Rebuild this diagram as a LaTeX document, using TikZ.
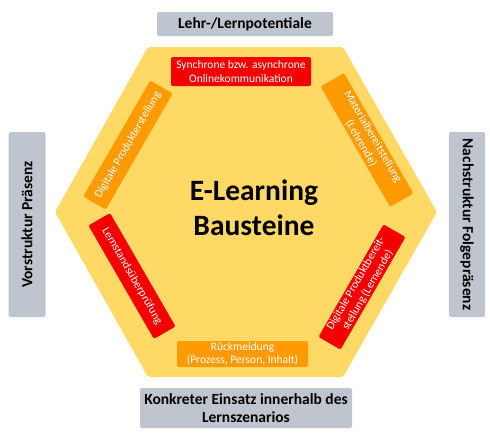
\documentclass[tikz,border=0pt]{standalone}
\usepackage{fontspec}
\setmainfont{Carlito}
\usepackage{tikz}

\definecolor{hexyellow}{RGB}{255,217,102}
\definecolor{brickorange}{RGB}{255,154,0}
\definecolor{brickred}{RGB}{244,0,0}
\definecolor{framegray}{RGB}{191,197,207}

\begin{document}
\begin{tikzpicture}[x=1pt,y=-1pt] \tikzstyle{every node}=[rounded corners=2pt,align=center,inner sep=1pt]
\tikzstyle{frame}=[fill=framegray,font=\bfseries\fontsize{15.5}{17.5}\selectfont]
\tikzstyle{brick}=[text=white,font=\fontsize{11.5}{13.5}\selectfont]
\tikzstyle{orangebrick}=[brick,fill=brickorange]
\tikzstyle{redbrick}=[brick,fill=brickred]
\useasboundingbox (0,0) rectangle (490,439);
\fill[hexyellow,rounded corners=2pt] (55,212) -- (148,47) -- (343,47) -- (437,212)
    -- (343,377) -- (148,377) -- cycle;
\node[font=\bfseries\fontsize{29.5}{35}\selectfont] (title) at (254,208) {E-Learning\\Bausteine};
\node[frame,minimum width=176,minimum height=24] (potential) at (245,24) {Lehr-/Lernpotentiale};
\node[frame,minimum width=185,minimum height=37,rotate=90] (before) at (27,224.5) {Vorstruktur Präsenz};
\node[frame,minimum width=185,minimum height=36,rotate=-90] (after) at (467,224.5) {Nachstruktur Folgepräsenz};
\node[frame,minimum width=212,minimum height=40] (scenario) at (246,408) {Konkreter Einsatz innerhalb des\\Lernszenarios};
\node[redbrick,minimum width=140,minimum height=29] (online) at (241,71.5) {Synchrone bzw. asynchrone\\Onlinekommunikation};
\node[orangebrick,minimum width=139,minimum height=27,rotate=-60] (material) at (367,140) {Materialbereitstellung\\(Lehrende)};
\node[orangebrick,minimum width=134,minimum height=26,rotate=60] (product) at (128,145) {Digitale Produkterstellung};
\node[redbrick,minimum width=131,minimum height=25,rotate=-60] (check) at (132,276) {Lernstandsüberprüfung};
\node[redbrick,minimum width=130,minimum height=25,rotate=60] (provide) at (362,287) {Digitale Produktbereit-\\stellung (Lernende)};
\node[orangebrick,minimum width=131,minimum height=26] (feedback) at (242.5,354) {Rückmeldung\\(Prozess, Person, Inhalt)};
\end{tikzpicture}
\end{document}
